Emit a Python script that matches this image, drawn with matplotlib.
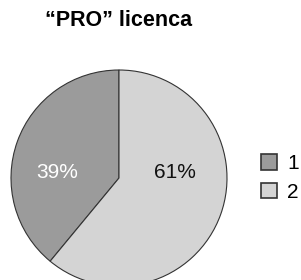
import matplotlib
matplotlib.use("Agg")
import matplotlib.pyplot as plt
from matplotlib.patches import Patch

title = "\u201cPRO\u201d licenca"
categories = ["1", "2"]
values = [39, 61]
pct_labels = ["39%", "61%"]
colors = ["#9b9b9b", "#d4d4d4"]
label_colors = ["white", "#111111"]

plt.rcParams['font.family'] = ['Liberation Sans', 'DejaVu Sans']

W, H = 301, 280
fig = plt.figure(figsize=(W / 100, H / 100), dpi=100)
ax = fig.add_axes([0, 0, 1, 1])

cx, cy, r = 119, 102, 108
wedges, _ = ax.pie(values, colors=colors, startangle=90, counterclock=True,
                   center=(cx, cy), radius=r, frame=False,
                   wedgeprops=dict(edgecolor="#333333", linewidth=0.8))
ax.set_xlim(0, W)
ax.set_ylim(0, H)
ax.set_aspect('equal')
ax.axis('off')

offsets = [(-62, 5), (56, 5)]
for lab, col, (dx, dy) in zip(pct_labels, label_colors, offsets):
    ax.text(cx + dx, cy + dy, lab, color=col, fontsize=15, ha='center', va='center')

ax.text(119, 259, title, fontsize=15.5, fontweight='bold', ha='center', va='center')

handles = [Patch(facecolor=c, edgecolor="#333333", linewidth=1.2) for c in colors]
leg = ax.legend(handles, categories, loc='center left', bbox_to_anchor=(261 / W, 102 / H),
                frameon=False, fontsize=15, handlelength=0.75, handleheight=0.75,
                handletextpad=0.5, labelspacing=0.45, borderpad=0, borderaxespad=0)

fig.savefig("out.png", dpi=100)
